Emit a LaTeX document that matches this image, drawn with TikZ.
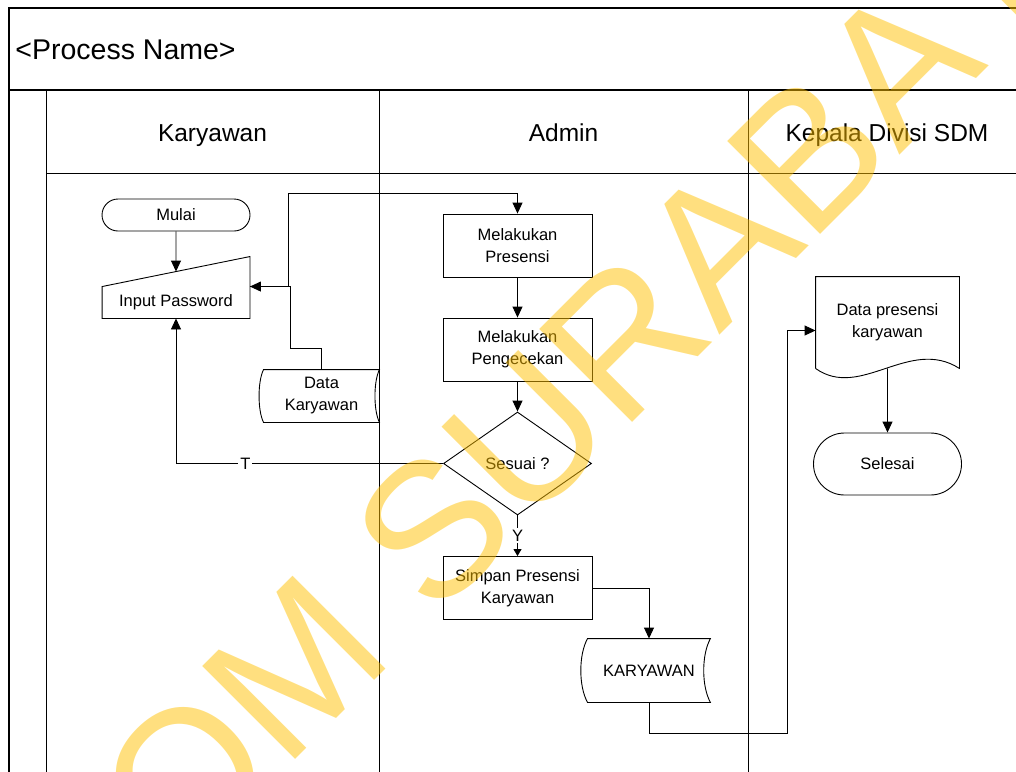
\documentclass[tikz,border=0pt]{standalone}
\usepackage{fontspec}
\setmainfont{Liberation Sans}
\newfontfamily\wmfont{Liberation Sans}[Kerning=Off]
\usetikzlibrary{shapes.geometric,shapes.misc,arrows.meta,calc}
\definecolor{wmgold}{RGB}{255,192,0}
\begin{document}
\begin{tikzpicture}[x=1pt,y=-1pt,line width=0.9pt,
  every node/.style={font=\fontsize{16.5}{22}\selectfont,align=center,inner sep=0pt},
  head/.style={font=\fontsize{24.5}{28}\selectfont,anchor=base},
  proc/.style={draw,minimum width=149pt,minimum height=63pt},
  term/.style={draw,rounded rectangle,minimum width=148pt},
  dec/.style={draw,diamond,minimum width=148pt,minimum height=103pt},
  arr/.style={-{Triangle[length=11pt,width=10pt]}},
  lbl/.style={fill=white,inner sep=2pt},
  node distance=104pt]
  \useasboundingbox (0,0) rectangle (1016,771);
  \clip (0,0) rectangle (1016,771);
  \draw[line width=1.1pt] (9,8) rectangle (1027,790);
  \draw[line width=1.1pt] (9,90) -- (1027,90);
  \draw (46,173) -- (1027,173);
  \draw (46,90) -- (46,790);
  \draw (379,90) -- (379,790);
  \draw (748,90) -- (748,790);
  \node[anchor=base west,font=\fontsize{28.5}{32}\selectfont] (procname) at (15,59) {<Process Name>};
  \node[head] (hkary) at (212.5,141) {Karyawan};
  \node[head] (hadmin) at (563.5,141) {Admin};
  \node[head] (hkadiv) at (887,141) {Kepala Divisi SDM};
  \node[term,minimum height=32pt] (mulai) at (176,215) {Mulai};
  \node[minimum width=147pt,minimum height=31pt] (inpw) [below of=mulai,node distance=87.5pt] {Input Password};
  \draw (inpw.north west) -- ($(inpw.north east)+(0,-30)$) -- (inpw.south east) -- (inpw.south west) -- cycle;
  \node[minimum width=115pt,minimum height=52pt] (dk) at (321.5,396) {Data\\Karyawan};
  \draw (dk.north west) .. controls +(-6,12) and +(-6,-12) .. (dk.south west) -- (dk.south east)
    .. controls +(-6,-12) and +(-6,12) .. (dk.north east) -- cycle;
  \node[proc] (pres) at (517.5,245.5) {Melakukan\\Presensi};
  \node[proc] (peng) [below of=pres] {Melakukan\\Pengecekan};
  \node[dec] (sesuai) [below of=peng,node distance=114pt] {Sesuai ?};
  \node[proc] (simpan) [below of=sesuai,node distance=124.5pt] {Simpan Presensi\\Karyawan};
  \node[minimum width=122pt,minimum height=63pt] (kary) at (649,670.5) {KARYAWAN};
  \draw (kary.north west) .. controls +(-9,16) and +(-9,-16) .. (kary.south west) -- (kary.south east)
    .. controls +(-9,-16) and +(-9,16) .. (kary.north east) -- cycle;
  \node[minimum width=143pt,minimum height=91pt] (doc) at (887.5,322.5) {Data presensi\\karyawan};
  \draw (doc.south west) -- (doc.north west) -- (doc.north east) -- (doc.south east)
    .. controls +(-50,-32) and +(45,32) .. (doc.south west);
  \node[term,minimum height=62pt] (selesai) [below of=doc,node distance=141.5pt] {Selesai};
  \draw[arr] (mulai) -- ($(inpw.north)+(0,-15)$);
  \draw[arr] (inpw.north east) -- ++(38,0) |- ($(pres.north)+(0,-20)$) -- (pres.north);
  \draw[arr] (dk.north) -- ++(0,-21) -| ($(inpw.north east)+(40,0)$) -- (inpw.north east);
  \draw[arr] (pres) -- (peng);
  \draw[arr] (peng) -- (sesuai);
  \draw[arr] (sesuai.west) -| node[lbl,pos=0.37] {T} (inpw.south);
  \draw[-{Triangle[length=7pt,width=8pt]}] (sesuai.south) -- node[lbl] {Y} (simpan.north);
  \draw[arr] (simpan.east) -| (kary.north);
  \draw[arr] (kary.south) -- ++(0,31) -| ($(doc.west)+(-28,8)$) -- ([yshift=-8pt]doc.west);
  \draw[arr] (doc.south) -- (selesai);
  \node[rotate=45,text=wmgold,text opacity=0.5,font=\wmfont\fontsize{191}{191}\selectfont] (wm) at (478,484) {STIKOM SURABAYA};
\end{tikzpicture}
\end{document}
